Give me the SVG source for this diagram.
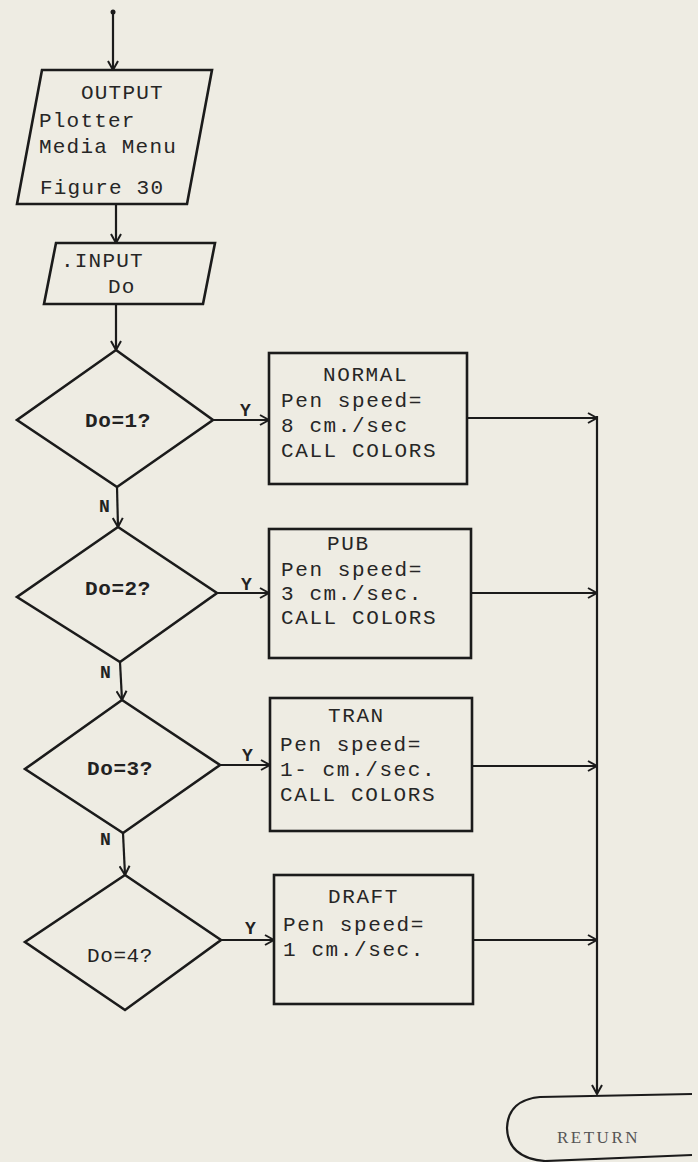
<svg xmlns="http://www.w3.org/2000/svg" width="698" height="1162" viewBox="0 0 698 1162">
<defs>
<marker id="arr" viewBox="0 0 12 12" refX="11" refY="6" markerWidth="12" markerHeight="12" markerUnits="userSpaceOnUse" orient="auto">
<path d="M2 1 L11 6 L2 11" fill="none" stroke="#1b1b1b" stroke-width="2"/>
</marker>
<style>
.shape{fill:none;stroke:#1b1b1b;stroke-width:2.6;stroke-linejoin:miter}
.line{fill:none;stroke:#1b1b1b;stroke-width:2.2;marker-end:url(#arr)}
.plain{fill:none;stroke:#1b1b1b;stroke-width:2.2}
.t{font-family:"Liberation Mono","DejaVu Sans Mono",monospace;font-size:21px;letter-spacing:1.6px;fill:#262626}
.to{font-family:"Liberation Mono","DejaVu Sans Mono",monospace;font-size:21px;letter-spacing:1.2px;fill:#262626}
.td{font-family:"Liberation Mono","DejaVu Sans Mono",monospace;font-size:21px;letter-spacing:0.6px;fill:#222;font-weight:bold}
.lbl{font-family:"Liberation Mono","DejaVu Sans Mono",monospace;font-size:18px;fill:#222;font-weight:bold}
.ret{font-family:"Liberation Serif","DejaVu Serif",serif;font-size:17px;fill:#555;letter-spacing:2.5px}
</style>
</defs>
<rect width="698" height="1162" fill="#eeece3"/>

<g id="connectors">
<circle cx="113" cy="12" r="2.5" fill="#1b1b1b"/>
<line class="line" x1="113" y1="12" x2="113" y2="70"/>
<line class="line" x1="116" y1="204" x2="116" y2="243"/>
<line class="line" x1="116" y1="304" x2="116" y2="350"/>
<line class="line" x1="117" y1="487" x2="118" y2="527"/>
<line class="line" x1="120" y1="662" x2="122" y2="700"/>
<line class="line" x1="123" y1="833" x2="125" y2="875"/>
<line class="line" x1="213" y1="420" x2="269" y2="420"/>
<line class="line" x1="217" y1="593" x2="269" y2="593"/>
<line class="line" x1="220" y1="765" x2="270" y2="765"/>
<line class="line" x1="221" y1="940" x2="274" y2="940"/>
<line class="line" x1="467" y1="418" x2="597" y2="418"/>
<line class="line" x1="471" y1="593" x2="597" y2="593"/>
<line class="line" x1="472" y1="766" x2="597" y2="766"/>
<line class="line" x1="473" y1="940" x2="597" y2="940"/>
<line class="line" x1="597" y1="416" x2="597" y2="1094"/>
<text class="lbl" x="240" y="416">Y</text>
<text class="lbl" x="241" y="590">Y</text>
<text class="lbl" x="242" y="761">Y</text>
<text class="lbl" x="245" y="934">Y</text>
<text class="lbl" x="99" y="512">N</text>
<text class="lbl" x="100" y="678">N</text>
<text class="lbl" x="100" y="845">N</text>
</g>

<g id="output">
<polygon class="shape" points="42,70 212,70 187,204 17,204"/>
<text class="to" x="81" y="99">OUTPUT</text>
<text class="to" x="39" y="127">Plotter</text>
<text class="to" x="39" y="153">Media Menu</text>
<text class="to" x="40" y="194">Figure 30</text>
</g>

<g id="input">
<polygon class="shape" points="56,243 215,243 203,304 44,304"/>
<text class="to" x="61" y="267">.INPUT</text>
<text class="to" x="108" y="293">Do</text>
</g>

<g id="d1">
<polygon class="shape" points="116,350 213,420 117,487 17,420"/>
<text class="td" x="85" y="427">Do=1?</text>
</g>
<g id="d2">
<polygon class="shape" points="118,527 217,593 120,662 17,597"/>
<text class="td" x="85" y="595">Do=2?</text>
</g>
<g id="d3">
<polygon class="shape" points="122,700 220,765 123,833 25,769"/>
<text class="td" x="87" y="775">Do=3?</text>
</g>
<g id="d4">
<polygon class="shape" points="125,875 221,940 125,1010 25,942"/>
<text class="td" x="87" y="962" style="font-weight:normal">Do=4?</text>
</g>

<g id="normal">
<rect class="shape" x="269" y="353" width="198" height="131"/>
<text class="t" x="323" y="381">NORMAL</text>
<text class="t" x="281" y="407">Pen speed=</text>
<text class="t" x="281" y="432">8 cm./sec</text>
<text class="t" x="281" y="457">CALL COLORS</text>
</g>

<g id="pub">
<rect class="shape" x="269" y="529" width="202" height="129"/>
<text class="t" x="327" y="550">PUB</text>
<text class="t" x="281" y="576">Pen speed=</text>
<text class="t" x="281" y="600">3 cm./sec.</text>
<text class="t" x="281" y="624">CALL COLORS</text>
</g>

<g id="tran">
<rect class="shape" x="270" y="698" width="202" height="133"/>
<text class="t" x="328" y="722">TRAN</text>
<text class="t" x="280" y="751">Pen speed=</text>
<text class="t" x="280" y="776">1- cm./sec.</text>
<text class="t" x="280" y="801">CALL COLORS</text>
</g>

<g id="draft">
<rect class="shape" x="274" y="875" width="199" height="129"/>
<text class="t" x="328" y="903">DRAFT</text>
<text class="t" x="283" y="931">Pen speed=</text>
<text class="t" x="283" y="956">1 cm./sec.</text>
</g>

<g id="return">
<path class="plain" d="M692 1094 L540 1097 Q508 1100 507 1128 Q508 1158 545 1161 L692 1155"/>
<text class="ret" x="557" y="1143">RETURN</text>
</g>
</svg>
